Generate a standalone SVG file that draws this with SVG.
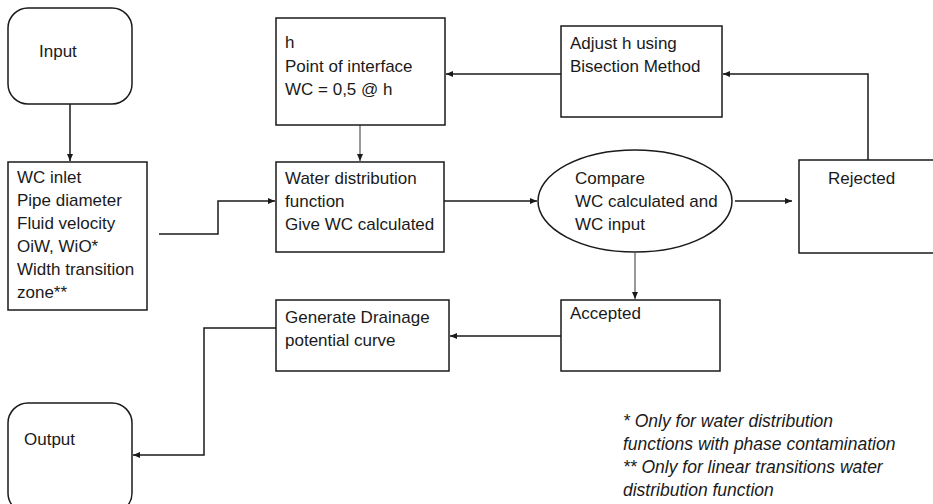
<svg xmlns="http://www.w3.org/2000/svg" width="933" height="504" viewBox="0 0 933 504">
<defs>
<style>
.box{fill:#fff;stroke:#1a1a1a;stroke-width:1.5}
.t{font-family:"Liberation Sans",Arial,sans-serif;font-size:17px;fill:#1a1a1a}
.fn{font-family:"Liberation Sans",Arial,sans-serif;font-size:17.5px;font-style:italic;fill:#1a1a1a}
.c{fill:none;stroke:#1a1a1a;stroke-width:1.5}
.g{fill:none;stroke:#555;stroke-width:1.2}
</style>
<marker id="ah" markerWidth="8" markerHeight="8" refX="7" refY="4" orient="auto" markerUnits="userSpaceOnUse">
<path d="M0,1 L7,4 L0,7 Z" fill="#1a1a1a"/>
</marker>
</defs>
<rect width="933" height="504" fill="#fff"/>
<g id="connectors">
<path class="c" d="M70,104 V161" marker-end="url(#ah)"/>
<path class="c" d="M159,234 H218 V201 H275" marker-end="url(#ah)"/>
<path class="g" d="M360,125 V161" marker-end="url(#ah)"/>
<path class="c" d="M561,74 H446" marker-end="url(#ah)"/>
<path class="c" d="M444,201 H537" marker-end="url(#ah)"/>
<path class="c" d="M735,201 H792" marker-end="url(#ah)"/>
<path class="c" d="M868,160 V74 H723" marker-end="url(#ah)"/>
<path class="g" d="M635,253 V299" marker-end="url(#ah)"/>
<path class="c" d="M561,336 H450" marker-end="url(#ah)"/>
<path class="c" d="M276,328 H204 V455 H133" marker-end="url(#ah)"/>
</g>
<g id="input">
<rect class="box" x="8" y="8" width="124" height="96" rx="20"/>
<text class="t" x="39" y="57">Input</text>
</g>
<g id="params">
<rect class="box" x="8" y="162" width="139" height="148"/>
<text class="t" x="17" y="183">WC inlet</text>
<text class="t" x="17" y="206">Pipe diameter</text>
<text class="t" x="17" y="229">Fluid velocity</text>
<text class="t" x="17" y="252">OiW, WiO*</text>
<text class="t" x="17" y="275">Width transition</text>
<text class="t" x="17" y="298">zone**</text>
</g>
<g id="interface">
<rect class="box" x="276" y="18" width="169" height="107"/>
<text class="t" x="285" y="48">h</text>
<text class="t" x="285" y="72">Point of interface</text>
<text class="t" x="285" y="95">WC = 0,5 @ h</text>
</g>
<g id="waterdist">
<rect class="box" x="276" y="162" width="168" height="90"/>
<text class="t" x="285" y="184">Water distribution</text>
<text class="t" x="285" y="207">function</text>
<text class="t" x="285" y="230">Give WC calculated</text>
</g>
<g id="adjust">
<rect class="box" x="561" y="26" width="161" height="91"/>
<text class="t" x="570" y="49">Adjust h using</text>
<text class="t" x="570" y="72">Bisection Method</text>
</g>
<g id="compare">
<ellipse class="box" cx="635" cy="201" rx="97" ry="51"/>
<text class="t" x="575" y="184">Compare</text>
<text class="t" x="575" y="207">WC calculated and</text>
<text class="t" x="575" y="230">WC input</text>
</g>
<g id="rejected">
<rect class="box" x="799" y="160" width="140" height="93"/>
<text class="t" x="828" y="184">Rejected</text>
</g>
<g id="accepted">
<rect class="box" x="561" y="300" width="159" height="71"/>
<text class="t" x="570" y="319">Accepted</text>
</g>
<g id="generate">
<rect class="box" x="276" y="300" width="173" height="71"/>
<text class="t" x="285" y="323">Generate Drainage</text>
<text class="t" x="285" y="346">potential curve</text>
</g>
<g id="output">
<rect class="box" x="8" y="403" width="124" height="110" rx="20"/>
<text class="t" x="24" y="445">Output</text>
</g>
<g id="footnote">
<text class="fn" x="623" y="427">* Only for water distribution</text>
<text class="fn" x="623" y="450">functions with phase contamination</text>
<text class="fn" x="623" y="473">** Only for linear transitions water</text>
<text class="fn" x="623" y="496">distribution function</text>
</g>
</svg>
